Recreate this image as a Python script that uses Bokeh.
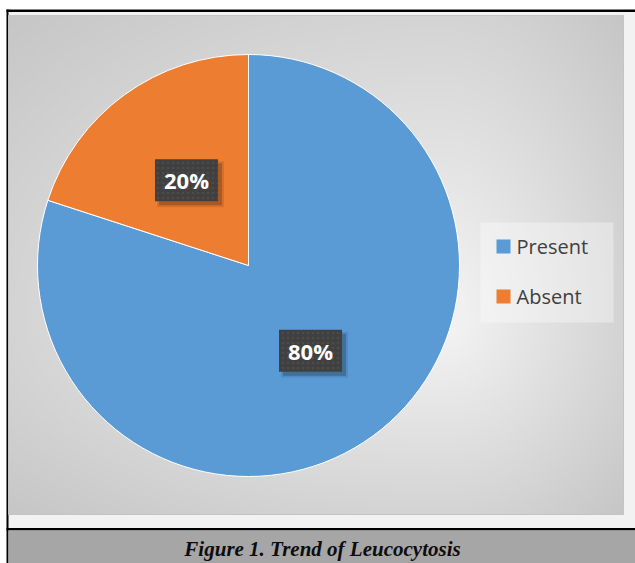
import numpy as np
from bokeh.plotting import figure
from bokeh.models import Range1d, ColumnDataSource
from bokeh.core.properties import value
from bokeh.embed import file_html
from bokeh.resources import INLINE

# ---- data ----
categories = ["Present", "Absent"]
values = [80, 20]
colors = ["#5B9BD5", "#ED7D31"]
caption = "Figure 1. Trend of Leucocytosis"

W, H = 635, 563


def X(sx):
    return sx


def Y(sy):
    return H - sy


p = figure(width=W, height=H, output_backend="svg", toolbar_location=None,
           x_range=Range1d(0, W), y_range=Range1d(0, H),
           x_axis_type=None, y_axis_type=None, min_border=0)
p.outline_line_color = None
p.grid.visible = False
p.background_fill_color = "white"
p.border_fill_color = "white"

# outer light panel
p.quad(left=X(6), right=X(635), top=Y(11), bottom=Y(528), fill_color="#F2F2F2", line_color=None)
# black frame lines
p.quad(left=X(6), right=X(635), top=Y(9), bottom=Y(11.5), fill_color="black", line_color=None)
p.quad(left=X(6), right=X(8), top=Y(9), bottom=Y(563), fill_color="black", line_color=None)
p.quad(left=X(6), right=X(635), top=Y(527.5), bottom=Y(530), fill_color="black", line_color=None)
# caption band
p.quad(left=X(8), right=X(635), top=Y(530), bottom=Y(563), fill_color="#A6A6A6", line_color=None)
p.text(x=[X(322)], y=[Y(548)], text=[caption], text_align="center", text_baseline="middle",
       text_font=value("Liberation Serif"), text_font_style="bold italic",
       text_font_size="21px", text_color="#0D0D0D")

# chart area with radial gradient (decoration)
L, R, T, B = 8, 623, 15, 514
gw, gh = (R - L) // 2, (B - T) // 2
cxg, cyg = 440.0, 320.0
xs = np.linspace(L, R, gw)
ys = np.linspace(B, T, gh)  # first row = bottom
XX, YY = np.meshgrid(xs, ys)
dxn = np.where(XX < cxg, (cxg - XX) / (cxg - L), (XX - cxg) / (R - cxg))
dyn = np.where(YY < cyg, (cyg - YY) / (cyg - T), (YY - cyg) / (B - cyg))
t = np.clip(np.sqrt(dxn ** 2 + dyn ** 2) / np.sqrt(2), 0, 1)
g = (245 - (245 - 198) * t).astype(np.uint32)
img = (255 << 24) | (g << 16) | (g << 8) | g
p.image_rgba(image=[img.astype(np.uint32)], x=X(L), y=Y(B), dw=R - L, dh=B - T)
# subtle chart-area edge
p.quad(left=X(L), right=X(R), top=Y(T), bottom=Y(B), fill_color=None, line_color="#C4C4C4", line_width=1)

# ---- pie ----
pcx, pcy, pr = X(248), Y(265), 211
total = float(sum(values))
cum = np.concatenate([[0], np.cumsum(values)]) / total
start = 90 - cum[:-1] * 360
end = 90 - cum[1:] * 360
mid = np.radians((start + end) / 2)
src = ColumnDataSource(dict(cat=categories, val=values, color=colors,
                            start=start, end=end,
                            lx=pcx + 0.5 * pr * np.cos(mid), ly=pcy + 0.5 * pr * np.sin(mid),
                            lab=[f"{v / total * 100:.0f}%" for v in values]))
p.wedge(x=pcx, y=pcy, radius=pr, start_angle="start", end_angle="end", start_angle_units="deg",
        end_angle_units="deg", direction="clock", fill_color="color", line_color="white",
        line_width=1, source=src)

# label boxes with shadow
sh = ColumnDataSource(dict(x=src.data["lx"] + 4, y=src.data["ly"] - 4))
p.rect(x="x", y="y", width=67, height=46, fill_color="black", fill_alpha=0.10, line_color=None, source=sh)
p.rect(x="x", y="y", width=63, height=42, fill_color="black", fill_alpha=0.20, line_color=None, source=sh)
p.rect(x="lx", y="ly", width=63, height=42, fill_color="#404040", line_color=None,
       hatch_pattern="dot", hatch_color="#4C4C4C", hatch_scale=5, hatch_weight=1.5, source=src)
p.text(x="lx", y="ly", text="lab", text_align="center", text_baseline="middle",
       text_font=value("Open Sans"), text_font_style="bold", text_font_size="22px",
       text_color="white", source=src)

# ---- legend ----
p.quad(left=X(480), right=X(613), top=Y(222), bottom=Y(322), fill_color="white", fill_alpha=0.35,
       line_color=None)
leg_y = [Y(246), Y(296)]
p.rect(x=[X(503)] * len(categories), y=leg_y, width=14, height=14, fill_color=colors, line_color=None)
p.text(x=[X(516)] * len(categories), y=leg_y, text=categories, text_align="left",
       text_baseline="middle", text_font=value("Open Sans"), text_font_size="20px",
       text_color="#404040")

open("out.html", "w").write(file_html(p, INLINE))
